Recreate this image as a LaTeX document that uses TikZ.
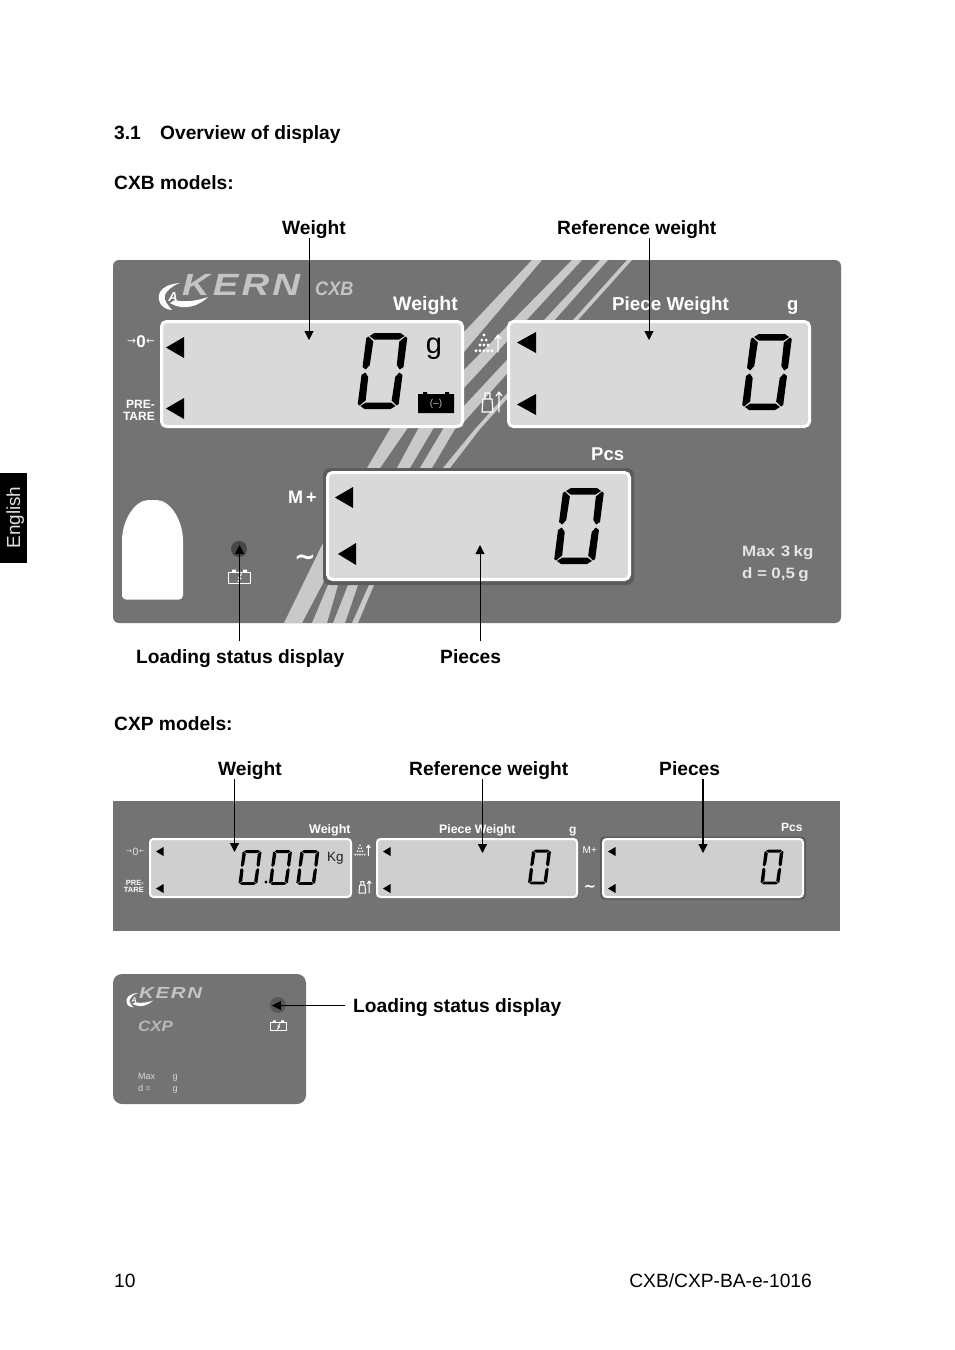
\documentclass[tikz,border=0pt]{standalone}
\usepackage{fontspec}
\setmainfont{Liberation Sans}
\newfontfamily\djfont{DejaVu Sans}
\usetikzlibrary{arrows.meta}
\newcommand{\fz}[1]{\fontsize{#1}{#1}\selectfont}
\definecolor{panelgray}{HTML}{737373}
\definecolor{stripegray}{HTML}{C9C9C9}
\definecolor{lcdgray}{HTML}{D9D9D9}
\definecolor{lcdgrayb}{HTML}{CFCFCF}
\definecolor{rimgray}{HTML}{5C5C5C}
\definecolor{logogray}{HTML}{C4C4C4}
\tikzset{
  lbl/.style={anchor=base west,inner sep=0pt,font=\bfseries\fz{19.2},text=black},
  plain/.style={anchor=base west,inner sep=0pt,font=\fz{19.2},text=black},
  wht/.style={anchor=base west,inner sep=0pt,text=white,font=\bfseries\fz{18.5}},
  whtr/.style={anchor=base east,inner sep=0pt,text=white,font=\bfseries\fz{12}},
  callout/.style={draw=black,line width=1pt,-{Triangle[length=9pt,width=9pt]}},
  calloutb/.style={draw=black,line width=1.2pt,-{Triangle[length=9pt,width=9pt]}},
  lcdbig/.style={draw=white,line width=3pt,fill=lcdgray,rounded corners=5pt},
  lcdsmall/.style={draw=white,line width=2pt,fill=lcdgrayb,rounded corners=3.5pt},
  tri/.style={fill=black},
  seg/.style={fill=black},
  stripe/.style={fill=stripegray},
  ico/.style={draw=white,fill=none,line cap=round,line join=round},
}
% seven-segment zero, design size 40 x 76 centred on (cx,cy)
\newcommand{\lcdzero}[3]{%
\begin{scope}[shift={(#1,#2)},scale=#3,xslant=0.13]
 \fill[seg] (-13,-38)--(13,-38)--(17.5,-35)--(12.5,-31.5)--(-12.5,-31.5)--(-17.5,-35)--cycle;
 \fill[seg] (-13,38)--(13,38)--(17.5,35)--(12.5,31.5)--(-12.5,31.5)--(-17.5,35)--cycle;
 \fill[seg] (-20.5,-33)--(-18.5,-34.5)--(-13,-29.5)--(-13.5,-6)--(-17,-1.5)--(-20.5,-4)--cycle;
 \fill[seg] (20.5,-33)--(18.5,-34.5)--(13,-29.5)--(13.5,-6)--(17,-1.5)--(20.5,-4)--cycle;
 \fill[seg] (-20.5,33)--(-18.5,34.5)--(-13,29.5)--(-13.5,6)--(-17,1.5)--(-20.5,4)--cycle;
 \fill[seg] (20.5,33)--(18.5,34.5)--(13,29.5)--(13.5,6)--(17,1.5)--(20.5,4)--cycle;
\end{scope}}
% left triangle: tip x, centre y, half height, length
\newcommand{\lcdtri}[4]{\fill[tri] (#1,#2)--(#1+#4,#2-#3)--(#1+#4,#2+#3)--cycle;}
\newcommand{\upbarb}[4]{% x, y-top, y-bottom, width
 \draw[ico,line width=#4] (#1,#3)--(#1,#2) (#1-3,#2+4)--(#1,#2)--(#1+3,#2+4);}
\newcommand{\pileicon}[4]{%
\begin{scope}[shift={(#1,#2)},scale=#3]
 \foreach \dx/\dy in {0/2, -2.2/7, 2.2/7, -4/12, 0/12, 4/12, -8/17.7, -4/17.7, 0/17.7, 4/17.7, 8/17.7}
   \fill[white] (\dx,\dy) circle (1.55);
 \upbarb{14}{2}{19}{#4}
\end{scope}}
\newcommand{\massicon}[4]{%
\begin{scope}[shift={(#1,#2)},scale=#3]
 \draw[ico,line width=#4] (3,7)--(3,1)--(8,1)--(8,7) (1,7)--(10,7)--(11,20)--(0,20)--cycle;
 \upbarb{17}{0}{20}{#4}
\end{scope}}
\newcommand{\batticon}[4]{%
\begin{scope}[shift={(#1,#2)},scale=#3]
 \draw[ico,line width=#4] (0.5,3) rectangle (22.5,14);
 \fill[white] (4,0.5) rectangle (8,3) (15,0.5) rectangle (19,3);
 \draw[ico,line width=#4] (13.5,5)--(10.5,9)--(13,9)--(10,12.5);
\end{scope}}
\newcommand{\kernmark}[4]{% x y scale fontsize  (local = px - (158,283))
\begin{scope}[shift={(#1,#2)},scale=#3]
 \fill[white] (22,0) .. controls (7,1) and (-1,8) .. (1,17) .. controls (2,23) and (8,27) .. (14,27)
   .. controls (10,22) and (5,17) .. (7,12) .. controls (9,7) and (14,3) .. (22,0) -- cycle;
 \fill[white] (12,20) .. controls (27,29) and (42,22) .. (50,14) .. controls (42,17) and (27,20) .. (17,17) -- cycle;
 \node[inner sep=0pt,text=white,font=\bfseries\itshape\fz{#4}] (mark#1) at (15,14) {A};
\end{scope}}
\begin{document}
\begin{tikzpicture}[x=1pt,y=-1pt]
\useasboundingbox (0,0) rectangle (954,1350);
\fill[white] (0,0) rectangle (954,1350);

% side tab
\fill[black] (0,473) rectangle (27,563);
\node[anchor=base,inner sep=0pt,rotate=90,text=white!88!black,font=\fz{18.9}] (tab) at (20,517.5) {English};

% headings
\node[lbl] (secnum) at (114,139) {3.1};
\node[lbl] (sectitle) at (160,139) {Overview of display};
\node[lbl] (cxbhead) at (114,189) {CXB models:};

% ========== CXB panel ==========
\node[lbl] (lweight) at (282,234) {Weight};
\node[lbl] (lref) at (557,234) {Reference weight};
\fill[panelgray,rounded corners=6pt] (113,260) rectangle (841,623);
\begin{scope}
 \clip[rounded corners=6pt] (113,260) rectangle (841,623);
 \fill[stripe] (284,623)--(322,545)--(367,468)--(390,429)--(464,332)--(532,260)--(542,260)--(464,352)--(407,429)--(380,468)--(322,585)--(302,623)--cycle;
 \fill[stripe] (312,623)--(328,585)--(397,468)--(418,429)--(464,370)--(572,260)--(582,260)--(464,388)--(433,429)--(410,468)--(338,585)--(327,623)--cycle;
 \fill[stripe] (333,623)--(348,585)--(420,468)--(443,429)--(464,406)--(600,260)--(608,260)--(464,422)--(455,429)--(432,468)--(358,585)--(345,623)--cycle;
 \fill[stripe] (352,623)--(369,585)--(443,468)--(475,429)--(627,260)--(632,260)--(480,429)--(450,468)--(374,585)--(358,623)--cycle;
\end{scope}

% logo
\kernmark{158}{283}{1}{13}
\node[anchor=base west,inner sep=0pt,text=logogray,font=\bfseries\itshape\fz{30.7}] (kern1) at (182,295) {\scalebox{1.25}[1]{\addfontfeature{LetterSpace=8}KERN}};
\node[anchor=base west,inner sep=0pt,text=logogray,font=\bfseries\itshape\fz{19.5}] (cxb1) at (315,295) {\scalebox{0.93}[1]{CXB}};

% labels on panel
\node[wht,font=\bfseries\fz{19.5}] (pweight) at (393,310) {Weight};
\node[wht,font=\bfseries\fz{18.8}] (ppiece) at (612,310) {Piece Weight};
\node[wht] (pg) at (787,310) {g};
\node[wht] (ppcs) at (591,460) {Pcs};

% LCDs
\draw[lcdbig] (161.5,321.5) rectangle (462.5,426.5);
\draw[lcdbig] (508.5,321.5) rectangle (809.5,426.5);
\fill[rimgray,rounded corners=7pt] (323,468) rectangle (634,585);
\draw[lcdbig] (327.5,472.5) rectangle (629.5,579.5);

% triangles
\lcdtri{166}{347.5}{10.5}{18}
\lcdtri{166}{408.5}{10.5}{18}
\lcdtri{517}{342.5}{10.5}{19}
\lcdtri{517}{404.5}{10.5}{19}
\lcdtri{335}{497.5}{10.5}{18}
\lcdtri{338}{554}{11}{18}

% digits
\lcdzero{382.5}{371}{1}
\lcdzero{767}{372}{1}
\lcdzero{579}{526}{1}
\node[anchor=base,inner sep=0pt,text=black,font=\fz{29}] (lcdg) at (434,353) {g};

% battery symbol
\fill[black] (418,394) rectangle (454,413) (423,392) rectangle (427,394) (445,392) rectangle (449,394);
\node[inner sep=0pt,text=white!75!black,font=\fz{10}] (battm) at (436,404) {(--)};

% left keys
\node[inner sep=0pt,text=white,font=\bfseries\fz{17}] (zero1) at (141,342) {0};
\node[inner sep=0pt,text=white,font=\djfont\fz{10.5}] (zl1) at (131.5,342) {→};
\node[inner sep=0pt,text=white,font=\djfont\fz{10.5}] (zr1) at (150.5,342) {←};
\node[whtr] (pre1) at (155,408.5) {PRE-};
\node[whtr] (tare1) at (155,420) {TARE};
\pileicon{484}{333}{1}{1.2pt}
\massicon{482}{392}{1}{1.2pt}

\node[wht,font=\bfseries\fz{18}] (mplus1) at (288,503) {M\,+};
\node[inner sep=0pt,text=white,font=\djfont\bfseries\fz{26}] (tilde1) at (305,560) {\textasciitilde};

% hand area and charge lamp
\fill[white,rounded corners=4pt] (122,599.5)--(122,560)--(122,545) .. controls (122,520) and (135,500) .. (152.5,500) .. controls (170,500) and (183,520) .. (183,545)--(183,599.5)--cycle;
\fill[black!72] (239,549) circle (8);
\batticon{228}{569}{1}{1pt}

% rating
\node[anchor=base west,inner sep=0pt,text=white!90!black,font=\bfseries\fz{15}] (max1) at (742,556) {\scalebox{1.13}[1]{Max\hspace{5pt}3\hspace{3pt}kg}};
\node[anchor=base west,inner sep=0pt,text=white!90!black,font=\bfseries\fz{15}] (d1) at (742,578) {\scalebox{1.13}[1]{d\hspace{4pt}=\hspace{4pt}0,5\hspace{3pt}g}};

% callouts
\coordinate (a1s) at (309,238);\coordinate (a1e) at (309,340);
\coordinate (a2s) at (649,238);\coordinate (a2e) at (649,340);
\coordinate (a3s) at (239.5,641);\coordinate (a3e) at (239.5,545);
\coordinate (a4s) at (480,641);\coordinate (a4e) at (480,545);
\draw[callout] (a1s)--(a1e);
\draw[callout] (a2s)--(a2e);
\draw[callout] (a3s)--(a3e);
\draw[callout] (a4s)--(a4e);
\node[lbl] (lload) at (136,663) {Loading status display};
\node[lbl] (lpieces) at (440,663) {Pieces};

% ========== CXP ==========
\node[lbl] (cxphead) at (114,730) {CXP models:};
\node[lbl] (l2weight) at (218,775) {Weight};
\node[lbl] (l2ref) at (409,775) {Reference weight};
\node[lbl] (l2pieces) at (659,775) {Pieces};
\fill[panelgray] (113,801) rectangle (840,931);

\node[wht,font=\bfseries\fz{12.5}] (p2weight) at (309,833) {Weight};
\node[wht,font=\bfseries\fz{12.3}] (p2piece) at (439,833) {Piece Weight};
\node[wht,font=\bfseries\fz{12}] (p2g) at (569,833) {g};
\node[wht,font=\bfseries\fz{12}] (p2pcs) at (781,831) {Pcs};

\draw[lcdsmall] (150,839) rectangle (351,897);
\draw[lcdsmall] (377,839) rectangle (577,897);
\fill[rimgray,rounded corners=4pt] (600,836.5) rectangle (806,899.5);
\draw[lcdsmall] (603,839) rectangle (803,897);

\lcdtri{156}{851.5}{4.5}{7.5}
\lcdtri{156}{888.5}{4.5}{7.5}
\lcdtri{383}{851.5}{4.5}{7.5}
\lcdtri{383}{888.5}{4.5}{7.5}
\lcdtri{608}{851.5}{4.5}{7.5}
\lcdtri{608}{888.5}{4.5}{7.5}

\lcdzero{250}{867.5}{0.46}
\lcdzero{280.5}{867.5}{0.46}
\lcdzero{307.8}{867.5}{0.46}
\fill[black] (266,882) circle (1.6);
\lcdzero{539.5}{867}{0.46}
\lcdzero{772}{867}{0.46}
\node[anchor=base west,inner sep=0pt,text=black!88,font=\fz{13.5}] (lcdkg) at (327,861) {Kg};

\node[inner sep=0pt,text=white!90!black,font=\fz{10.5}] (zero2) at (135.5,851.5) {0};
\node[inner sep=0pt,text=white!90!black,font=\djfont\fz{7}] (zl2) at (129,851.5) {→};
\node[inner sep=0pt,text=white!90!black,font=\djfont\fz{7}] (zr2) at (142,851.5) {←};
\node[whtr,font=\bfseries\fz{7.5}] (pre2) at (144,885) {PRE-};
\node[whtr,font=\bfseries\fz{7.5}] (tare2) at (144,892) {TARE};
\pileicon{360}{844}{0.6}{1pt}
\massicon{359}{881}{0.6}{1pt}
\node[wht,font=\fz{10}] (mplus2) at (582.5,853) {M+};
\node[inner sep=0pt,text=white,font=\djfont\bfseries\fz{15}] (tilde2) at (590,888) {\textasciitilde};

\coordinate (b1s) at (234.5,779);\coordinate (b1e) at (234.5,852);
\coordinate (b2s) at (482.5,779);\coordinate (b2e) at (482.5,853);
\coordinate (b3s) at (703,779);\coordinate (b3e) at (703,853);
\draw[calloutb] (b1s)--(b1e);
\draw[calloutb] (b2s)--(b2e);
\draw[calloutb] (b3s)--(b3e);

% small CXP panel
\fill[panelgray,rounded corners=9pt] (113,974) rectangle (306,1104);
\kernmark{126}{993}{0.54}{7}
\node[anchor=base west,inner sep=0pt,text=logogray,font=\bfseries\itshape\fz{16}] (kern2) at (139,998) {\scalebox{1.28}[1]{\addfontfeature{LetterSpace=8}KERN}};
\node[anchor=base west,inner sep=0pt,text=white!72!black,font=\bfseries\itshape\fz{15}] (cxp2) at (138,1031) {\scalebox{1.13}[1]{CXP}};
\node[anchor=base west,inner sep=0pt,text=white!85!black,font=\fz{9}] (max2) at (138,1079) {Max};
\node[anchor=base west,inner sep=0pt,text=white!85!black,font=\fz{9}] (g2a) at (172.5,1079) {g};
\node[anchor=base west,inner sep=0pt,text=white!85!black,font=\fz{9}] (d2) at (138,1091) {d =};
\node[anchor=base west,inner sep=0pt,text=white!85!black,font=\fz{9}] (g2b) at (172.5,1091) {g};
\fill[black!65] (278,1005) circle (8);
\batticon{270}{1020}{0.74}{0.9pt}
\coordinate (c1s) at (345,1005.5);\coordinate (c1e) at (272,1005.5);
\draw[callout] (c1s)--(c1e);
\node[lbl] (l3load) at (353,1012) {Loading status display};

% footer
\node[plain] (pageno) at (114,1287) {10};
\node[plain,anchor=base east] (docid) at (812,1287) {CXB/CXP-BA-e-1016};
\end{tikzpicture}
\end{document}
